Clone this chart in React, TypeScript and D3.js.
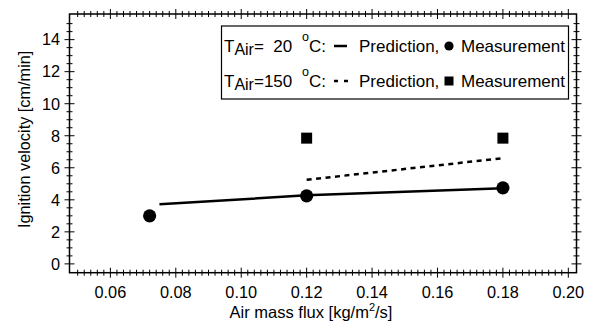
import React from "react";
import * as d3 from "d3";

const pred20X = [0.075, 0.12, 0.18];
const pred20Y = [3.72, 4.28, 4.72];
const meas20X = [0.072, 0.12, 0.18];
const meas20Y = [3.0, 4.25, 4.75];
const pred150X = [0.12, 0.18];
const pred150Y = [5.25, 6.6];
const meas150X = [0.12, 0.18];
const meas150Y = [7.85, 7.85];
const xMajorTicks = [0.06, 0.08, 0.1, 0.12, 0.14, 0.16, 0.18, 0.2];
const yMajorTicks = [0, 2, 4, 6, 8, 10, 12, 14];

const W = 595;
const H = 330;
const L = 69.5, R = 576.5, T = 14, B = 272.7;
const FONT = "'Liberation Sans', Arial, Helvetica, sans-serif";

export default function App() {
  const x = d3.scaleLinear().domain([0.0475, 0.2025]).range([L, R]);
  const y = d3.scaleLinear().domain([-0.55, 15.6]).range([B, T]);

  const xMinor = d3.range(0, 76).map((i) => 0.05 + i * 0.002).filter((v) => v <= 0.2001);
  const yMinor = d3.range(0, 31).map((i) => i * 0.5);
  const isXMajor = (v: number) => xMajorTicks.some((m) => Math.abs(m - v) < 1e-6);
  const isYMajor = (v: number) => yMajorTicks.some((m) => Math.abs(m - v) < 1e-6);

  const line = d3.line<[number, number]>().x((d) => x(d[0])).y((d) => y(d[1]));
  const p20 = line(pred20X.map((v, i) => [v, pred20Y[i]] as [number, number])) || "";
  const p150 = line(pred150X.map((v, i) => [v, pred150Y[i]] as [number, number])) || "";

  const sq = 11;
  const lg1 = 52;
  const lg2 = 87;

  return (
    <svg width={W} height={H} style={{ position: "absolute", left: 0, top: 0, background: "#fff" }} fontFamily={FONT}>
      <rect x={0} y={0} width={W} height={H} fill="#fff" />
      {/* frame */}
      <rect x={L} y={T} width={R - L} height={B - T} fill="none" stroke="#000" strokeWidth={1.5} />
      {/* x ticks bottom & top */}
      {xMinor.map((v, i) => {
        const xx = x(v);
        const len = isXMajor(v) ? 5 : 3;
        return (
          <g key={"xt" + i} stroke="#000" strokeWidth={1}>
            <line x1={xx} x2={xx} y1={B - len} y2={B + len} />
            <line x1={xx} x2={xx} y1={T - len} y2={T + len} />
          </g>
        );
      })}
      {yMinor.map((v, i) => {
        const yy = y(v);
        const len = isYMajor(v) ? 5 : 3;
        return (
          <g key={"yt" + i} stroke="#000" strokeWidth={1}>
            <line x1={L - len} x2={L + len} y1={yy} y2={yy} />
            <line x1={R - len} x2={R + len} y1={yy} y2={yy} />
          </g>
        );
      })}
      {/* tick labels */}
      {xMajorTicks.map((v) => (
        <text key={"xl" + v} x={x(v)} y={298} textAnchor="middle" fontSize={16.3}>
          {d3.format(".2f")(v)}
        </text>
      ))}
      {yMajorTicks.map((v) => (
        <text key={"yl" + v} x={60} y={y(v) + 5.8} textAnchor="end" fontSize={16.3}>
          {v}
        </text>
      ))}
      {/* axis titles */}
      <text x={311} y={318} textAnchor="middle" fontSize={16.5}>
        Air mass flux [kg/m<tspan dy={-7} fontSize={11}>2</tspan>
        <tspan dy={7}>/s]</tspan>
      </text>
      <text transform={`translate(29.5,${(T + B) / 2 - 4}) rotate(-90)`} textAnchor="middle" fontSize={16.3}>
        Ignition velocity [cm/min]
      </text>
      {/* data */}
      <path d={p20} fill="none" stroke="#000" strokeWidth={2.5} />
      <path d={p150} fill="none" stroke="#000" strokeWidth={2.5} strokeDasharray="5,4.5" />
      {meas20X.map((v, i) => (
        <circle key={"c" + i} cx={x(v)} cy={y(meas20Y[i])} r={6.6} fill="#000" />
      ))}
      {meas150X.map((v, i) => (
        <rect key={"s" + i} x={x(v) - sq / 2} y={y(meas150Y[i]) - sq / 2} width={sq} height={sq} fill="#000" />
      ))}
      {/* legend */}
      <rect x={221.5} y={26} width={347} height={73} fill="#fff" stroke="#000" strokeWidth={1.2} />
      <g fontSize={17}>
        <text x={224} y={lg1}>
          T<tspan dy={3} fontSize={16}>Air</tspan>
          <tspan dy={-3}>{"=\u00a0\u00a020"}</tspan>
        </text>
        <text x={302} y={lg1 - 11} fontSize={12.5}>o</text>
        <text x={309} y={lg1}>C:</text>
        <line x1={334} x2={347} y1={lg1 - 6} y2={lg1 - 6} stroke="#000" strokeWidth={2.5} />
        <text x={359} y={lg1}>Prediction,</text>
        <circle cx={449} cy={lg1 - 6} r={4.6} fill="#000" />
        <text x={461} y={lg1}>Measurement</text>

        <text x={224} y={lg2}>
          T<tspan dy={3} fontSize={16}>Air</tspan>
          <tspan dy={-3}>=150</tspan>
        </text>
        <text x={302} y={lg2 - 11} fontSize={12.5}>o</text>
        <text x={309} y={lg2}>C:</text>
        <line x1={334} x2={348} y1={lg2 - 6} y2={lg2 - 6} stroke="#000" strokeWidth={2.5} strokeDasharray="4,6" />
        <text x={359} y={lg2}>Prediction,</text>
        <rect x={449 - 4.5} y={lg2 - 10.5} width={9} height={9} fill="#000" />
        <text x={461} y={lg2}>Measurement</text>
      </g>
    </svg>
  );
}
